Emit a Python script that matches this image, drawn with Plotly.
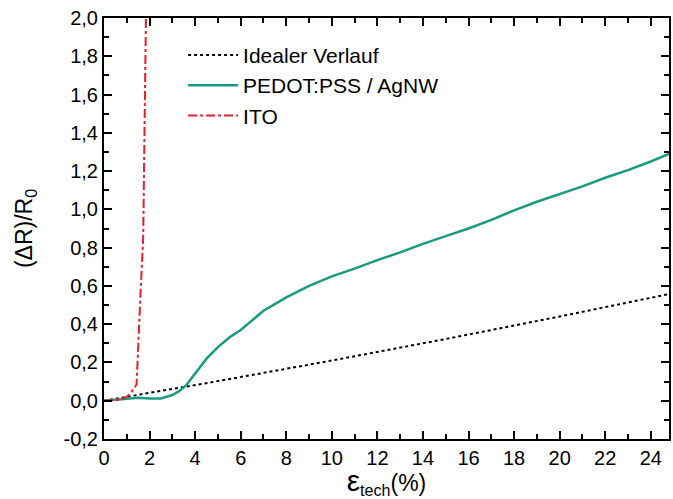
import plotly.graph_objects as go

# Ideal curve
ideal_x = [0, 5, 10, 15, 20, 24.8]
ideal_y = [0, 0.1025, 0.21, 0.3225, 0.44, 0.5575]

# PEDOT:PSS / AgNW
pedot_x = [0, 0.5, 1, 1.5, 2, 2.5, 3, 3.3, 3.6, 4, 4.5, 5, 5.5, 6, 6.5, 7, 7.5, 8, 9, 10, 11, 12, 13, 14, 15, 16, 17, 18, 19, 20, 21, 22, 23, 24, 24.8]
pedot_y = [0, 0.005, 0.01, 0.015, 0.012, 0.012, 0.03, 0.05, 0.08, 0.14, 0.22, 0.28, 0.33, 0.37, 0.42, 0.47, 0.505, 0.54, 0.60, 0.65, 0.69, 0.735, 0.775, 0.82, 0.86, 0.90, 0.945, 0.995, 1.04, 1.08, 1.12, 1.165, 1.205, 1.25, 1.29]

# ITO
ito_x = [0, 0.7, 1.0, 1.2, 1.43, 1.5, 1.6, 1.72, 1.8, 1.85]
ito_y = [0, 0.005, 0.02, 0.045, 0.085, 0.3, 0.55, 0.85, 1.5, 2.1]

x_ticks = list(range(0, 25, 2))
y_ticks = [-0.2, 0.0, 0.2, 0.4, 0.6, 0.8, 1.0, 1.2, 1.4, 1.6, 1.8, 2.0]

FONT = "Liberation Sans, Arial"

fig = go.Figure()
fig.add_trace(go.Scatter(x=ideal_x, y=ideal_y, mode="lines", name="Idealer Verlauf",
                         line=dict(color="black", width=2, dash="dot")))
fig.add_trace(go.Scatter(x=pedot_x, y=pedot_y, mode="lines", name="PEDOT:PSS / AgNW",
                         line=dict(color="#1a9a80", width=2.5)))
fig.add_trace(go.Scatter(x=ito_x, y=ito_y, mode="lines", name="ITO",
                         line=dict(color="#e0202a", width=2, dash="dashdot")))

axis_common = dict(showline=True, linecolor="black", linewidth=2, mirror="ticks",
                   ticks="inside", ticklen=8, tickwidth=1.5, tickcolor="black",
                   showgrid=False, zeroline=False,
                   tickfont=dict(family=FONT, size=20, color="black"))

fig.update_xaxes(range=[0, 24.8], tickvals=x_ticks, ticktext=[str(v) for v in x_ticks],
                 minor=dict(ticks="inside", ticklen=5, tickwidth=1.5, tickcolor="black", dtick=1),
                 title=dict(text="<span style='font-size:30px'>ε</span><sub>tech</sub>(%)", standoff=0,
                            font=dict(family=FONT, size=23, color="black")),
                 **axis_common)
fig.update_yaxes(range=[-0.2, 2.0], tickvals=y_ticks, ticktext=[f"{v:.1f}".replace(".", ",") for v in y_ticks],
                 minor=dict(ticks="inside", ticklen=5, tickwidth=1.5, tickcolor="black", dtick=0.1),
                 title=dict(text="(ΔR)/R<sub>0</sub>", standoff=24,
                            font=dict(family=FONT, size=23, color="black")),
                 **axis_common)

fig.update_layout(
    width=673, height=499,
    margin=dict(l=104, r=2, t=18, b=60),
    plot_bgcolor="white", paper_bgcolor="white",
    showlegend=True,
    legend=dict(x=0.14, y=0.96, xanchor="left", yanchor="top", bgcolor="rgba(0,0,0,0)",
                font=dict(family=FONT, size=21, color="black"),
                tracegroupgap=0, itemwidth=50),
)

fig.write_html("out.html")
